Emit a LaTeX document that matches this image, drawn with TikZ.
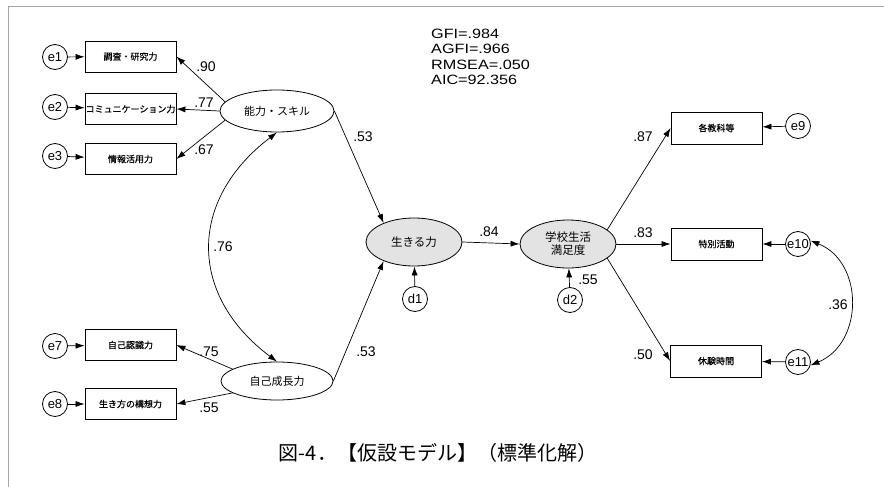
\documentclass[tikz,border=0pt]{standalone}
\usepackage{fontspec}
\setmainfont{Liberation Sans}
\newfontfamily\widesans[FakeStretch=1.2]{Liberation Sans}
\newfontfamily\jp{Noto Sans CJK JP}
\newfontfamily\jpb[FakeBold=0.6]{Noto Sans CJK JP}
\usetikzlibrary{shapes.geometric,arrows.meta}
\tikzset{
  x=1pt, y=-1pt,
  errc/.style={draw, circle, minimum size=25pt, inner sep=0pt, line width=0.8pt, font=\fontsize{13}{13}\selectfont},
  obs/.style={draw, rectangle, minimum width=91pt, minimum height=31pt, inner sep=0pt, line width=0.8pt, fill=white, font=\jpb\fontsize{9}{9}\selectfont},
  lat/.style={draw, ellipse, minimum width=113pt, minimum height=40pt, inner sep=0pt, line width=0.8pt, font=\jp\fontsize{11}{11}\selectfont},
  endo/.style={draw, ellipse, minimum width=96pt, minimum height=48pt, inner sep=0pt, line width=0.8pt, fill=gray!22, font=\jp\fontsize{11.5}{13}\selectfont, align=center},
  arr/.style={-{Latex[length=9pt,width=6pt]}, line width=0.7pt},
  cov/.style={{Latex[length=9pt,width=6pt]}-{Latex[length=9pt,width=6pt]}, line width=0.7pt},
  lbl/.style={font=\fontsize{14}{14}\selectfont, inner sep=0pt}
}
\begin{document}
\begin{tikzpicture}
\useasboundingbox (0,0) rectangle (884,487);
\fill[white] (0,0) rectangle (884,487);
\draw[gray!70, line width=1pt] (8,487) -- (8,7) -- (884,7);

% fit statistics
\node[anchor=north west, align=left, inner sep=0pt, font=\widesans\fontsize{13.5}{15.3}\selectfont] (fit) at (431,29) {GFI=.984\\AGFI=.966\\RMSEA=.050\\AIC=92.356};

% left observed variables
\node[obs] (b1) at (130.5,56.5) {調査・研究力};
\node[obs] (b2) at (130.5,109) {コミュニケーション力};
\node[obs] (b3) at (130.5,159) {情報活用力};
\node[obs] (b7) at (130.5,345) {自己認識力};
\node[obs] (b8) at (130.5,404) {生き方の構想力};

\node[errc] (e1) at (55,57) {e1};
\node[errc] (e2) at (55,107) {e2};
\node[errc] (e3) at (55,156) {e3};
\node[errc] (e7) at (55,346) {e7};
\node[errc] (e8) at (55,404) {e8};

\foreach \i in {1,2,3,7,8} { \draw[arr] (e\i) -- (b\i); }

% latent exogenous
\node[lat, minimum width=114pt, minimum height=42pt] (abil) at (277,111) {能力・スキル};
\node[lat, minimum width=112pt, minimum height=38pt] (grow) at (277,381) {自己成長力};

\draw[arr] (abil.170) -- (b1.east);
\draw[arr] (abil.west) -- (b2.east);
\draw[arr] (abil.190) -- (b3.east);
\draw[arr] (grow.165) -- (b7.east);
\draw[arr] (grow.195) -- (b8.east);

\node[lbl] (l90) at (206,67) {.90};
\node[lbl] (l77) at (204,103) {.77};
\node[lbl] (l67) at (204,150) {.67};
\node[lbl] (l75) at (209,352) {.75};
\node[lbl] (l55a) at (209,408) {.55};

\draw[cov] (abil.south) .. controls (188,200) and (188,295) .. (grow.north);
\node[lbl] (l76) at (223,247) {.76};

% endogenous
\node[endo] (live) at (414,242) {生きる力};
\node[endo] (school) at (568,244) {学校生活\\満足度};
\node[errc] (d1) at (415,299) {d1};
\node[errc] (d2) at (570,300) {d2};

\draw[arr] (abil.east) -- (live.148);
\draw[arr] (grow.east) -- (live.212);
\node[lbl] (l53a) at (363,137) {.53};
\node[lbl] (l53b) at (366,352) {.53};

\draw[arr] (d1) -- (live);
\draw[arr] (d2) -- (school);
\draw[arr] (live.east) -- (school.west);
\node[lbl] (l84) at (489,232) {.84};
\node[lbl] (l55b) at (588,280) {.55};

% right observed
\node[obs, minimum height=32pt] (b9) at (716.5,128) {各教科等};
\node[obs, minimum height=32pt] (b10) at (716.5,244) {特別活動};
\node[obs, minimum height=32pt] (b11) at (716,361) {休験時間};
\node[errc] (e9) at (798,126) {e9};
\node[errc] (e10) at (798,244) {e10};
\node[errc] (e11) at (798,362) {e11};
\foreach \i in {9,10,11} { \draw[arr] (e\i) -- (b\i); }

\draw[arr] (school.20) -- (b9.west);
\draw[arr] (school.east) -- (b10.west);
\draw[arr] (school.340) -- (b11.west);
\node[lbl] (l87) at (643,137) {.87};
\node[lbl] (l83) at (643,233) {.83};
\node[lbl] (l50) at (643,355) {.50};

\draw[cov] (e10.15) .. controls (864,262) and (864,343) .. (e11.-15);
\node[lbl] (l36) at (838,305) {.36};

% caption
\node[font=\jp\fontsize{20}{20}\selectfont, inner sep=0pt] (cap) at (438,453) {図-4．【仮設モデル】（標準化解）};
\end{tikzpicture}
\end{document}
